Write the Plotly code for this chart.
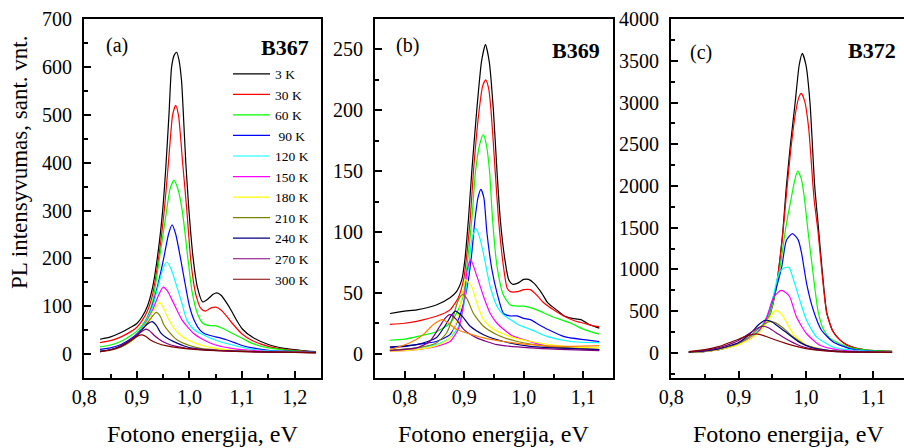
import plotly.graph_objects as go

W, H = 904, 448
FONT = "Liberation Serif"

# ---------------- legend / series labels ----------------
temps = ["3 K", "30 K", "60 K", "\u00a090 K", "120 K", "150 K", "180 K",
         "210 K", "240 K", "270 K", "300 K"]
colors_a = ["#000000", "#ff0000", "#00ff00", "#0000ff", "#00ffff", "#ff00ff",
            "#ffff00", "#808000", "#000080", "#800080", "#800000"]
colors_b = ["#000000", "#ff0000", "#00ff00", "#0000ff", "#00ffff", "#ff00ff",
            "#ffff00", "#808000", "#000080", "#800080", "#ff8000"]
colors_c = colors_a

# ---------------- panel (a) B367 ----------------
a_3K = ([0.83, 0.85, 0.87, 0.89, 0.90, 0.91, 0.92, 0.93, 0.94, 0.949, 0.955, 0.961, 0.966, 0.971, 0.9756,
         0.98, 0.985, 0.988, 0.993, 0.999, 1.007, 1.015, 1.025, 1.035, 1.045, 1.052, 1.06, 1.07, 1.08,
         1.09, 1.10, 1.12, 1.15, 1.18, 1.21, 1.24],
        [31, 36, 45, 57, 64, 78, 100, 140, 210, 300, 390, 500, 600, 625, 631,
         615, 570, 510, 400, 300, 200, 140, 109, 115, 125, 128, 123, 108, 90,
         70, 53, 35, 20, 12, 8, 5])
a_30K = ([0.83, 0.85, 0.87, 0.89, 0.90, 0.91, 0.92, 0.93, 0.94, 0.952, 0.96, 0.968, 0.9737, 0.979, 0.987,
          0.995, 1.003, 1.012, 1.022, 1.03, 1.04, 1.05, 1.06, 1.07, 1.08, 1.10, 1.12, 1.15, 1.18, 1.21, 1.24],
         [24, 28, 36, 48, 56, 70, 90, 125, 190, 300, 400, 500, 520, 500, 400,
          300, 190, 125, 95, 90, 96, 98, 92, 80, 66, 42, 28, 16, 10, 7, 5])
a_60K = ([0.83, 0.85, 0.87, 0.89, 0.90, 0.91, 0.92, 0.93, 0.943, 0.9565, 0.963, 0.9705, 0.978, 0.9863,
          0.997, 1.005, 1.015, 1.025, 1.035, 1.05, 1.06, 1.07, 1.08, 1.10, 1.12, 1.15, 1.18, 1.21, 1.24],
         [15, 19, 27, 40, 48, 60, 78, 110, 200, 300, 345, 363, 345, 300,
          200, 130, 85, 65, 60, 59, 55, 50, 44, 33, 22, 13, 9, 6, 4])
a_90K = ([0.83, 0.85, 0.87, 0.89, 0.90, 0.91, 0.92, 0.929, 0.94, 0.951, 0.96, 0.967, 0.974, 0.983, 0.992,
          1.0, 1.01, 1.02, 1.03, 1.05, 1.07, 1.09, 1.10, 1.12, 1.15, 1.18, 1.21, 1.24],
         [10, 13, 20, 33, 42, 55, 75, 100, 145, 200, 250, 270, 250, 200, 145,
          100, 68, 50, 42, 36, 30, 22, 18, 13, 8, 6, 5, 4])
a_120K = ([0.83, 0.85, 0.87, 0.89, 0.90, 0.91, 0.92, 0.93, 0.94, 0.95, 0.957, 0.965, 0.976, 0.986, 0.995,
           1.008, 1.021, 1.05, 1.085, 1.12, 1.16, 1.20, 1.24],
          [6, 9, 16, 30, 40, 55, 75, 100, 140, 180, 192, 178, 141, 105, 71,
           52, 43, 29, 18, 10, 6, 4, 3])
a_150K = ([0.83, 0.85, 0.87, 0.89, 0.90, 0.91, 0.92, 0.93, 0.94, 0.95, 0.958, 0.97, 0.986, 1.008, 1.03,
           1.05, 1.08, 1.116, 1.16, 1.20, 1.24],
          [5, 8, 15, 28, 38, 52, 70, 92, 120, 140, 132, 106, 71, 43, 28,
           19, 12, 8, 5, 4, 3])
a_180K = ([0.83, 0.85, 0.87, 0.89, 0.90, 0.91, 0.92, 0.93, 0.943, 0.95, 0.957, 0.97, 0.9825, 1.0, 1.021,
           1.05, 1.085, 1.13, 1.18, 1.24],
          [5, 8, 15, 28, 38, 52, 68, 88, 108, 98, 80, 55, 40, 28, 19,
           12, 8, 5, 4, 3])
a_210K = ([0.83, 0.85, 0.87, 0.89, 0.90, 0.91, 0.92, 0.937, 0.945, 0.951, 0.96, 0.976, 1.0, 1.021, 1.06,
           1.12, 1.18, 1.24],
          [5, 8, 15, 28, 37, 50, 65, 87, 78, 62, 48, 30, 18, 12, 8,
           5, 4, 3])
a_240K = ([0.83, 0.85, 0.87, 0.89, 0.90, 0.91, 0.92, 0.929, 0.937, 0.945, 0.955, 0.97, 0.99, 1.008, 1.05,
           1.10, 1.16, 1.24],
          [6, 9, 16, 30, 40, 52, 63, 68, 60, 45, 35, 26, 17, 12, 8,
           6, 4, 3])
a_270K = ([0.83, 0.85, 0.87, 0.89, 0.90, 0.91, 0.917, 0.925, 0.932, 0.945, 0.957, 0.975, 0.995, 1.03, 1.08,
           1.15, 1.24],
          [5, 9, 17, 31, 40, 48, 52, 48, 40, 29, 22, 16, 12, 9, 6,
           4, 3])
a_300K = ([0.83, 0.85, 0.87, 0.89, 0.90, 0.91, 0.918, 0.925, 0.94, 0.957, 0.98, 1.008, 1.05, 1.10, 1.16, 1.24],
          [5, 9, 18, 30, 37, 40, 36, 30, 22, 17, 13, 10, 7, 5, 4, 3])

# ---------------- panel (b) B369 ----------------
b_3K = ([0.775, 0.80, 0.82, 0.853, 0.876, 0.887, 0.896, 0.901, 0.907, 0.9127, 0.921, 0.929, 0.9356, 0.942,
         0.949, 0.955, 0.9606, 0.9675, 0.9746, 0.981, 0.99, 1.0, 1.008, 1.017, 1.03, 1.04, 1.055, 1.068,
         1.082, 1.096, 1.11, 1.127],
        [33, 35, 36, 40, 46, 51, 61, 77, 110, 150, 200, 240, 254, 240,
         200, 150, 110, 80, 61, 57, 58, 61, 61, 58, 50, 42, 36, 31,
         29, 28, 24, 21])
b_30K = ([0.775, 0.80, 0.82, 0.853, 0.876, 0.89, 0.899, 0.904, 0.91, 0.9155, 0.925, 0.931, 0.936, 0.941,
          0.945, 0.952, 0.9577, 0.965, 0.972, 0.9775, 0.99, 1.0, 1.011, 1.022, 1.034, 1.05, 1.068, 1.085,
          1.101, 1.115, 1.127],
         [24, 25, 26.6, 30.7, 36, 46, 61, 80, 110, 150, 200, 220, 225, 218,
          200, 150, 110, 75, 54, 51, 51, 52.6, 52.6, 48, 41.6, 36, 30.7, 27,
          25, 23, 22])
b_60K = ([0.775, 0.80, 0.82, 0.853, 0.876, 0.89, 0.899, 0.904, 0.9127, 0.919, 0.926, 0.932, 0.937, 0.9425,
          0.9476, 0.955, 0.966, 0.9775, 0.99, 1.0, 1.022, 1.045, 1.079, 1.101, 1.127],
         [11, 12, 14, 18, 25, 36, 50, 69, 110, 150, 172, 180, 172, 150,
          110, 72, 48, 40, 39, 39, 36, 31, 25, 20, 16])
b_90K = ([0.775, 0.80, 0.82, 0.853, 0.876, 0.89, 0.899, 0.907, 0.9127, 0.918, 0.923, 0.928, 0.933, 0.938,
          0.9465, 0.955, 0.966, 0.977, 0.989, 1.0, 1.011, 1.025, 1.04, 1.068, 1.101, 1.127],
         [4.7, 6, 7.4, 10, 15.6, 28, 41.6, 61, 83, 110, 128, 135, 128, 100,
          69, 50, 33, 31, 31, 29, 28, 24, 20, 14, 11.5, 10])
b_120K = ([0.775, 0.80, 0.82, 0.853, 0.876, 0.89, 0.899, 0.907, 0.9127, 0.9194, 0.925, 0.932, 0.9437, 0.955,
           0.966, 0.9775, 0.99, 1.011, 1.04, 1.079, 1.127],
          [2.5, 3.5, 4.7, 7.4, 13, 22, 39, 69, 94, 103, 97, 83, 55, 39,
           32, 28, 24, 20, 14, 10, 9])
b_150K = ([0.775, 0.82, 0.853, 0.876, 0.89, 0.899, 0.905, 0.911, 0.921, 0.9324, 0.9437, 0.955, 0.966, 0.98,
           1.0, 1.04, 1.08, 1.127],
          [2, 3.3, 6, 10, 20, 41.6, 69, 77, 64, 47, 33, 25, 20, 15,
           11.5, 6, 4.5, 3.3])
b_180K = ([0.775, 0.82, 0.853, 0.876, 0.89, 0.899, 0.902, 0.9127, 0.921, 0.9324, 0.949, 0.9775, 1.011, 1.068,
           1.127],
          [2, 3.3, 6.6, 13, 31, 55, 60.8, 55, 41.6, 28, 20, 14, 10, 6, 4.7])
b_210K = ([0.775, 0.82, 0.853, 0.8704, 0.8817, 0.89, 0.897, 0.904, 0.9155, 0.9324, 0.955, 0.989, 1.04, 1.127],
          [2.7, 4.7, 8.8, 17, 31, 44, 48.5, 45.7, 33, 22.5, 15.6, 10, 6, 3.3])
b_240K = ([0.775, 0.82, 0.853, 0.8704, 0.879, 0.885, 0.896, 0.91, 0.9324, 0.966, 1.011, 1.06, 1.127],
          [5.5, 7.4, 13, 25, 32, 35, 31, 22.5, 15.6, 10, 6, 4.5, 3.3])
b_270K = ([0.775, 0.82, 0.842, 0.859, 0.8676, 0.876, 0.887, 0.899, 0.921, 0.955, 1.011, 1.06, 1.127],
          [2.5, 4.7, 10, 22.5, 29, 32, 28, 20, 13, 7.4, 4.7, 3.5, 2.5])
b_300K = ([0.775, 0.808, 0.831, 0.848, 0.864, 0.876, 0.887, 0.904, 0.9324, 0.966, 1.011, 1.068, 1.127],
          [3.3, 8.8, 15.6, 24, 28, 24, 20, 17, 13, 10, 7.4, 6, 6.6])

# ---------------- panel (c) B372 ----------------
c_3K = ([0.826, 0.85, 0.87, 0.89, 0.90, 0.92, 0.935, 0.945, 0.955, 0.965, 0.971, 0.977, 0.984, 0.99, 0.9946,
         1.0, 1.006, 1.013, 1.018, 1.024, 1.031, 1.04, 1.05, 1.06, 1.075, 1.09, 1.11, 1.128],
        [8, 20, 40, 80, 110, 190, 300, 430, 750, 1400, 2000, 2500, 3000, 3450, 3590,
         3450, 3000, 2000, 1550, 1000, 480, 260, 160, 100, 55, 35, 25, 20])
c_30K = ([0.826, 0.85, 0.87, 0.89, 0.90, 0.92, 0.935, 0.945, 0.955, 0.965, 0.971, 0.977, 0.984, 0.989, 0.993,
          0.998, 1.004, 1.012, 1.018, 1.024, 1.031, 1.04, 1.05, 1.06, 1.075, 1.09, 1.11, 1.128],
         [8, 20, 40, 80, 110, 190, 300, 430, 740, 1380, 1900, 2400, 2850, 3050, 3110,
          3020, 2700, 1850, 1450, 950, 470, 260, 160, 100, 55, 35, 25, 20])
c_60K = ([0.826, 0.85, 0.87, 0.89, 0.90, 0.92, 0.935, 0.945, 0.955, 0.962, 0.97, 0.978, 0.9837, 0.9877, 0.9926,
          0.997, 1.0025, 1.0099, 1.018, 1.025, 1.035, 1.05, 1.07, 1.09, 1.11, 1.128],
         [8, 20, 40, 80, 110, 190, 300, 430, 740, 1050, 1500, 1850, 2080, 2180, 2100,
          1900, 1500, 1000, 500, 300, 180, 110, 55, 35, 25, 20])
c_90K = ([0.826, 0.85, 0.87, 0.89, 0.90, 0.92, 0.935, 0.942, 0.952, 0.964, 0.971, 0.98, 0.9886, 0.9936,
          1.001, 1.011, 1.0232, 1.0405, 1.065, 1.09, 1.128],
         [8, 20, 40, 80, 110, 190, 320, 430, 670, 1030, 1350, 1430, 1352, 1192,
          832, 512, 272, 132, 52, 25, 15])
c_120K = ([0.826, 0.85, 0.87, 0.89, 0.90, 0.92, 0.935, 0.945, 0.952, 0.96, 0.968, 0.975, 0.981, 0.991,
           1.001, 1.016, 1.04, 1.06, 1.09, 1.128],
          [8, 20, 40, 80, 110, 200, 330, 500, 700, 960, 1020, 1025, 890, 630,
           390, 190, 72, 40, 22, 12])
c_150K = ([0.826, 0.85, 0.87, 0.89, 0.90, 0.92, 0.932, 0.942, 0.952, 0.963, 0.969, 0.976, 0.986, 1.001,
           1.021, 1.05, 1.08, 1.128],
          [8, 20, 40, 80, 110, 190, 280, 430, 670, 750, 730, 670, 430, 230,
           92, 35, 18, 10])
c_180K = ([0.826, 0.85, 0.87, 0.89, 0.90, 0.917, 0.932, 0.944, 0.955, 0.96, 0.966, 0.981, 1.001, 1.03, 1.06, 1.128],
          [8, 20, 40, 75, 100, 170, 260, 400, 510, 490, 440, 230, 92, 30, 15, 8])
c_210K = ([0.826, 0.85, 0.87, 0.89, 0.90, 0.917, 0.93, 0.945, 0.955, 0.966, 0.98, 1.0, 1.03, 1.06, 1.128],
          [9, 22, 45, 88, 118, 200, 300, 375, 360, 300, 200, 95, 35, 15, 8])
c_240K = ([0.826, 0.85, 0.87, 0.89, 0.90, 0.917, 0.93, 0.939, 0.948, 0.96, 0.97, 0.99, 1.01, 1.04, 1.08, 1.128],
          [10, 25, 50, 95, 125, 230, 340, 390, 380, 310, 250, 130, 60, 25, 12, 8])
c_270K = ([0.826, 0.85, 0.87, 0.89, 0.90, 0.917, 0.93, 0.937, 0.945, 0.96, 0.97, 0.99, 1.01, 1.04, 1.08, 1.128],
          [12, 30, 60, 115, 150, 240, 305, 320, 300, 220, 170, 90, 45, 20, 10, 6])
c_300K = ([0.826, 0.85, 0.87, 0.89, 0.90, 0.915, 0.927, 0.94, 0.955, 0.97, 0.99, 1.01, 1.04, 1.08, 1.128],
          [15, 40, 75, 135, 165, 210, 228, 200, 155, 115, 70, 40, 18, 10, 6])

panel_a = [a_3K, a_30K, a_60K, a_90K, a_120K, a_150K, a_180K, a_210K, a_240K, a_270K, a_300K]
panel_b = [b_3K, b_30K, b_60K, b_90K, b_120K, b_150K, b_180K, b_210K, b_240K, b_270K, b_300K]
panel_c = [c_3K, c_30K, c_60K, c_90K, c_120K, c_150K, c_180K, c_210K, c_240K, c_270K, c_300K]

# ---------------- figure ----------------
fig = go.Figure()


def add_panel(data, colors, xa, ya, legend):
    for (xs, ys), col, name in zip(data, colors, temps):
        fig.add_trace(go.Scatter(
            x=xs, y=ys, mode="lines", name=name, xaxis=xa, yaxis=ya,
            line=dict(color=col, width=1.2, shape="spline", smoothing=0.6),
            showlegend=legend, hoverinfo="skip"))


add_panel(panel_a, colors_a, "x", "y", True)
add_panel(panel_b, colors_b, "x2", "y2", False)
add_panel(panel_c, colors_c, "x3", "y3", False)

tickfont = dict(family=FONT, size=20, color="black")


def px_x(p):
    return p / W


def px_y(p):
    return 1 - p / H


def xaxis(domain, rng, mirror=True):
    return dict(domain=domain, range=rng, anchor=None, showline=True, linecolor="black",
                linewidth=2, mirror=mirror, ticks="inside", ticklen=7, tickwidth=1.5,
                tickcolor="black", showgrid=False, zeroline=False, tickfont=tickfont,
                tick0=0, dtick=0.1, tickformat=".1f", automargin=False,
                ticklabelstandoff=0,
                minor=dict(ticks="inside", ticklen=4, tickwidth=1.5, tickcolor="black",
                           dtick=0.05, showgrid=False))


def yaxis(rng, dtick, mdtick, mirror=True):
    return dict(domain=[px_y(378), px_y(19)], range=rng, showline=True, linecolor="black",
                linewidth=2, mirror=mirror, ticks="inside", ticklen=7, tickwidth=1.5,
                tickcolor="black", showgrid=False, zeroline=False, tickfont=tickfont,
                tick0=0, dtick=dtick, automargin=False, ticklabelstandoff=6,
                minor=dict(ticks="inside", ticklen=4, tickwidth=1.5, tickcolor="black",
                           dtick=mdtick, showgrid=False))


xa = xaxis([px_x(84), px_x(321)], [0.7995, 1.25]); xa["anchor"] = "y"
xb = xaxis([px_x(375), px_x(613)], [0.75, 1.15]); xb["anchor"] = "y2"
xc = xaxis([px_x(671), 1.0], [0.7995, 1.1457]); xc["anchor"] = "y3"
ya = yaxis([-50, 700.5], 100, 50); ya["anchor"] = "x"
yb = yaxis([-20, 275], 50, 25); yb["anchor"] = "x2"
yc = yaxis([-300, 4001], 500, 250, mirror=False); yc["anchor"] = "x3"

annots = []


def txt(text, x, y, size, xanchor="left", yanchor="middle", angle=0):
    annots.append(dict(text=text, x=px_x(x), y=px_y(y), xref="paper", yref="paper",
                       showarrow=False, xanchor=xanchor, yanchor=yanchor, textangle=angle,
                       font=dict(family=FONT, size=size, color="black")))


txt("(a)", 104, 46, 20)
txt("<b>B367</b>", 311, 48, 22, xanchor="right")
txt("(b)", 394, 46, 20)
txt("<b>B369</b>", 602, 50, 22, xanchor="right")
txt("(c)", 688, 52, 20)
txt("<b>B372</b>", 898, 51, 22, xanchor="right")
txt("Fotono energija, eV", 202.5, 434, 24, xanchor="center")
txt("Fotono energija, eV", 494, 434, 24, xanchor="center")
txt("Fotono energija, eV", 789, 434, 24, xanchor="center")
txt("PL intensyvumas, sant. vnt.", 19, 163, 23, xanchor="center", angle=-90)

fig.update_layout(
    width=W, height=H, margin=dict(l=0, r=0, t=0, b=0),
    paper_bgcolor="white", plot_bgcolor="white",
    separators=",.",
    xaxis=xa, xaxis2=xb, xaxis3=xc, yaxis=ya, yaxis2=yb, yaxis3=yc,
    annotations=annots,
    showlegend=True,
    legend=dict(x=px_x(228), y=px_y(58.5), xanchor="left", yanchor="top",
                bgcolor="rgba(0,0,0,0)", borderwidth=0, itemwidth=37,
                font=dict(family=FONT, size=13.5, color="black"),
                tracegroupgap=0, itemclick=False, itemdoubleclick=False),
    font=dict(family=FONT, color="black"),
)

fig.write_html("out.html")
